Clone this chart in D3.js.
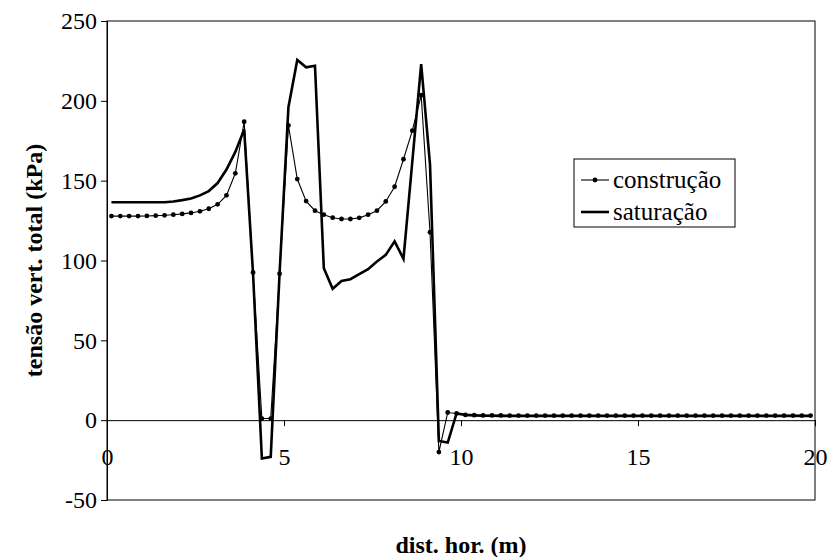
<!DOCTYPE html>
<html>
<head>
<meta charset="utf-8">
<script src="https://cdn.jsdelivr.net/npm/d3@7"></script>
<style>
  html, body { margin: 0; padding: 0; background: #fff; }
  svg { display: block; }
</style>
</head>
<body>
<svg id="chart" width="831" height="557"></svg>
<script>
// Horizontal positions (m) of the computed points: element centres every 0.25 m
const distHor = [
  0.125, 0.375, 0.625, 0.875, 1.125, 1.375, 1.625, 1.875, 2.125, 2.375,
  2.625, 2.875, 3.125, 3.375, 3.625, 3.875, 4.125, 4.375, 4.625, 4.875,
  5.125, 5.375, 5.625, 5.875, 6.125, 6.375, 6.625, 6.875, 7.125, 7.375,
  7.625, 7.875, 8.125, 8.375, 8.625, 8.875, 9.125, 9.375, 9.625, 9.875,
  10.125, 10.375, 10.625, 10.875, 11.125, 11.375, 11.625, 11.875, 12.125, 12.375,
  12.625, 12.875, 13.125, 13.375, 13.625, 13.875, 14.125, 14.375, 14.625, 14.875,
  15.125, 15.375, 15.625, 15.875, 16.125, 16.375, 16.625, 16.875, 17.125, 17.375,
  17.625, 17.875, 18.125, 18.375, 18.625, 18.875, 19.125, 19.375, 19.625, 19.875
];

// Total vertical stress (kPa) — end of construction
const construcao = [
  127.8, 127.8, 127.8, 127.8, 127.9, 128.1, 128.3, 128.7, 129.2, 129.8,
  130.8, 132.4, 135.2, 140.8, 154.6, 186.9, 92.5, 1.0, 1.0, 91.7,
  184.6, 151.0, 137.2, 131.2, 128.7, 126.8, 126.0, 126.0, 126.7, 128.7,
  131.2, 137.0, 146.2, 163.4, 181.3, 203.5, 117.7, -20.0, 4.8, 4.2,
  3.3, 3.1, 3.0, 3.0, 3.0, 2.9, 2.9, 2.9, 2.9, 2.9,
  2.9, 2.9, 2.9, 2.9, 2.9, 2.9, 2.9, 2.9, 2.9, 2.9,
  2.9, 2.9, 2.9, 2.9, 2.9, 2.9, 2.9, 2.9, 2.9, 2.9,
  2.9, 2.9, 2.9, 2.9, 2.9, 2.9, 2.9, 2.9, 2.9, 2.9
];

// Total vertical stress (kPa) — after saturation
const saturacao = [
  136.5, 136.5, 136.5, 136.5, 136.5, 136.5, 136.5, 137.0, 137.8, 138.8,
  140.8, 143.5, 148.5, 157.0, 168.0, 182.0, 92.0, -24.0, -23.0, 92.0,
  196.0, 225.6, 221.0, 222.0, 95.2, 82.3, 87.2, 88.3, 91.5, 94.6,
  99.4, 103.5, 112.0, 101.0, 162.0, 223.0, 160.0, -13.0, -14.0, 4.2,
  3.3, 3.0, 2.8, 2.8, 2.7, 2.7, 2.7, 2.7, 2.7, 2.7,
  2.7, 2.7, 2.7, 2.7, 2.7, 2.7, 2.7, 2.7, 2.7, 2.7,
  2.7, 2.7, 2.7, 2.7, 2.7, 2.7, 2.7, 2.7, 2.7, 2.7,
  2.7, 2.7, 2.7, 2.7, 2.7, 2.7, 2.7, 2.7, 2.7, 2.7
];

const xTicks = [0, 5, 10, 15, 20];
const yTicks = [-50, 0, 50, 100, 150, 200, 250];
const seriesNames = ["construção", "saturação"];

const svg = d3.select("#chart");
const serif = "'Liberation Serif', 'Times New Roman', serif";
const plain = d => String(d);   // keep an ASCII hyphen for negatives

const plot = { left: 107, right: 815, top: 21, bottom: 500 };
const x = d3.scaleLinear().domain([0, 20]).range([plot.left, plot.right]);
const y = d3.scaleLinear().domain([-50, 250]).range([plot.bottom, plot.top]);

// plot frame
svg.append("rect")
  .attr("x", plot.left).attr("y", plot.top)
  .attr("width", plot.right - plot.left).attr("height", plot.bottom - plot.top)
  .attr("fill", "none").attr("stroke", "#000").attr("stroke-width", 1);

// y axis
const yAxis = svg.append("g")
  .attr("transform", `translate(${plot.left},0)`)
  .call(d3.axisLeft(y).tickValues(yTicks).tickSize(6).tickPadding(4).tickFormat(plain));
yAxis.select(".domain").attr("stroke", "#000");
yAxis.selectAll("text").attr("font-family", serif).attr("font-size", 24).attr("fill", "#000");

// x axis along y = 0
const xAxis = svg.append("g")
  .attr("transform", `translate(0,${y(0)})`)
  .call(d3.axisBottom(x).tickValues(xTicks).tickSize(6).tickPadding(22).tickFormat(plain));
xAxis.select(".domain").attr("stroke", "#000");
xAxis.selectAll("text").attr("font-family", serif).attr("font-size", 24).attr("fill", "#000");

// axis titles
svg.append("text")
  .attr("transform", `translate(42,${(plot.top + plot.bottom) / 2}) rotate(-90)`)
  .attr("text-anchor", "middle")
  .attr("font-family", serif).attr("font-size", 24).attr("font-weight", "bold")
  .text("tensão vert. total (kPa)");

svg.append("text")
  .attr("x", (plot.left + plot.right) / 2).attr("y", 553)
  .attr("text-anchor", "middle")
  .attr("font-family", serif).attr("font-size", 24).attr("font-weight", "bold")
  .text("dist. hor. (m)");

const line = d3.line().x(d => x(d[0])).y(d => y(d[1]));
const satPts = distHor.map((d, i) => [d, saturacao[i]]);
const conPts = distHor.map((d, i) => [d, construcao[i]]);

// saturation: thick solid line
svg.append("path").datum(satPts)
  .attr("d", line).attr("fill", "none")
  .attr("stroke", "#000").attr("stroke-width", 2.6).attr("stroke-linejoin", "miter");

// construction: thin line with dot markers
svg.append("path").datum(conPts)
  .attr("d", line).attr("fill", "none")
  .attr("stroke", "#000").attr("stroke-width", 1.1);
svg.append("g").selectAll("circle").data(conPts).join("circle")
  .attr("cx", d => x(d[0])).attr("cy", d => y(d[1])).attr("r", 2.4).attr("fill", "#000");

// legend
const lg = svg.append("g");
lg.append("rect").attr("x", 574).attr("y", 159).attr("width", 161).attr("height", 68)
  .attr("fill", "#fff").attr("stroke", "#000").attr("stroke-width", 1);
const rows = [180, 212];
lg.append("line").attr("x1", 581).attr("x2", 609).attr("y1", rows[0]).attr("y2", rows[0])
  .attr("stroke", "#000").attr("stroke-width", 1.1);
lg.append("circle").attr("cx", 595).attr("cy", rows[0]).attr("r", 2.4).attr("fill", "#000");
lg.append("line").attr("x1", 581).attr("x2", 609).attr("y1", rows[1]).attr("y2", rows[1])
  .attr("stroke", "#000").attr("stroke-width", 2.6);
seriesNames.forEach((name, i) => {
  lg.append("text").attr("x", 613).attr("y", rows[i]).attr("dy", "0.32em")
    .attr("font-family", serif).attr("font-size", 25).text(name);
});
</script>
</body>
</html>
